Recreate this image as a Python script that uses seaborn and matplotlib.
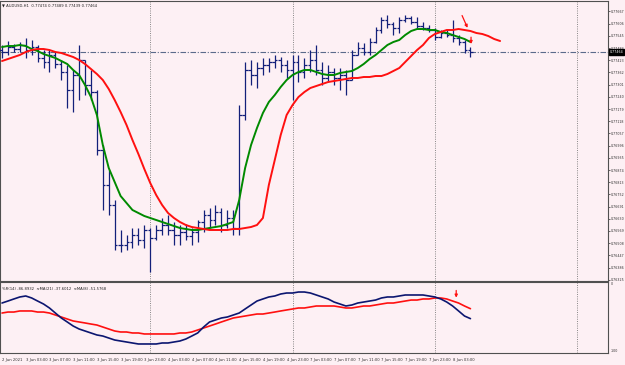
import numpy as np
import pandas as pd
import matplotlib
matplotlib.use("Agg")
import matplotlib.pyplot as plt
import matplotlib.transforms as mtrans
import seaborn as sns

# AUDUSD H1, бары с 2 Jun 23:00 по 8 Jun 06:00, цены в пунктах (1e-5)
bar_open = [77474, 77464, 77489, 77479, 77499, 77474, 77489, 77434, 77414, 77449,
            77404, 77364, 77274, 77349, 77424, 77299, 77264, 76974, 76799, 76699,
            76499, 76499, 76514, 76549, 76524, 76574, 76534, 76574, 76599, 76574,
            76549, 76564, 76544, 76564, 76614, 76649, 76624, 76664, 76599, 76634,
            76584, 77149, 77374, 77349, 77384, 77399, 77414, 77424, 77399, 77374,
            77414, 77364, 77399, 77424, 77374, 77334, 77364, 77334, 77349, 77324,
            77449, 77484, 77464, 77514, 77574, 77624, 77604, 77584, 77624, 77634,
            77614, 77594, 77584, 77574, 77539, 77559, 77549, 77534, 77514, 77474]
bar_high = [77499, 77519, 77504, 77514, 77534, 77524, 77499, 77474, 77474, 77464,
            77424, 77399, 77374, 77499, 77424, 77374, 77274, 76999, 76874, 76724,
            76574, 76549, 76584, 76584, 76599, 76584, 76599, 76634, 76649, 76614,
            76599, 76604, 76584, 76624, 76674, 76684, 76699, 76684, 76674, 76674,
            77199, 77414, 77424, 77414, 77434, 77434, 77449, 77439, 77424, 77449,
            77449, 77434, 77474, 77499, 77414, 77399, 77384, 77384, 77374, 77474,
            77514, 77509, 77534, 77589, 77639, 77649, 77614, 77639, 77649, 77644,
            77639, 77614, 77599, 77584, 77574, 77574, 77624, 77549, 77524, 77489]
bar_low = [77434, 77449, 77464, 77464, 77434, 77449, 77414, 77384, 77364, 77384,
           77324, 77184, 77164, 77224, 77249, 77224, 76949, 76674, 76649, 76474,
           76464, 76474, 76484, 76499, 76484, 76364, 76524, 76549, 76549, 76499,
           76499, 76524, 76499, 76514, 76564, 76584, 76599, 76564, 76584, 76549,
           76549, 77124, 77299, 77284, 77349, 77364, 77384, 77364, 77334, 77224,
           77314, 77334, 77364, 77349, 77299, 77314, 77299, 77274, 77249, 77324,
           77449, 77449, 77449, 77509, 77559, 77584, 77549, 77559, 77614, 77604,
           77584, 77574, 77564, 77524, 77534, 77539, 77514, 77499, 77459, 77439]
bar_close = [77464, 77489, 77479, 77499, 77474, 77489, 77434, 77414, 77449, 77404,
             77364, 77274, 77349, 77424, 77299, 77264, 76974, 76799, 76699, 76499,
             76499, 76514, 76549, 76524, 76574, 76534, 76574, 76599, 76574, 76549,
             76564, 76544, 76564, 76614, 76649, 76624, 76664, 76599, 76634, 76584,
             77149, 77374, 77349, 77384, 77399, 77414, 77424, 77399, 77374, 77414,
             77364, 77399, 77424, 77374, 77334, 77364, 77334, 77349, 77324, 77449,
             77484, 77464, 77514, 77574, 77624, 77604, 77584, 77624, 77634, 77614,
             77594, 77584, 77574, 77539, 77559, 77549, 77534, 77514, 77474, 77464]

# скользящие средние (зелёная быстрая, красная со сдвигом вперёд)
ma_green = [77489, 77494, 77494, 77499, 77494, 77479, 77469, 77454, 77444, 77434,
            77419, 77404, 77374, 77349, 77299, 77239, 77149, 76999, 76884, 76814,
            76744, 76709, 76674, 76659, 76644, 76634, 76624, 76614, 76604, 76594,
            76584, 76579, 76574, 76574, 76579, 76584, 76589, 76594, 76604, 76614,
            76724, 76884, 76999, 77084, 77159, 77214, 77249, 77289, 77324, 77349,
            77364, 77374, 77374, 77364, 77354, 77349, 77349, 77359, 77364, 77369,
            77384, 77404, 77429, 77449, 77474, 77499, 77514, 77524, 77549, 77569,
            77579, 77579, 77574, 77574, 77564, 77559, 77549, 77539, 77529, 77514]
ma_red = [77419, 77429, 77439, 77449, 77464, 77474, 77479, 77479, 77474, 77464,
          77459, 77449, 77439, 77424, 77404, 77379, 77354, 77324, 77279, 77224,
          77164, 77099, 77024, 76954, 76879, 76809, 76749, 76699, 76659, 76634,
          76614, 76599, 76589, 76584, 76579, 76574, 76574, 76574, 76574, 76579,
          76579, 76584, 76589, 76599, 76634, 76799, 76924, 77049, 77149, 77199,
          77239, 77264, 77284, 77294, 77304, 77314, 77319, 77324, 77329, 77334,
          77334, 77339, 77339, 77344, 77344, 77354, 77369, 77384, 77414, 77444,
          77474, 77499, 77534, 77554, 77564, 77574, 77574, 77579, 77574, 77569,
          77559, 77554, 77544, 77529, 77519]

# нижнее окно: средние от %R(14)
wpr_ma8 = [-29.6, -26.8, -23.9, -21.1, -19.7, -22.5, -26.8, -31.0, -36.6, -43.7,
           -50.7, -56.3, -62.0, -66.2, -69.0, -71.8, -74.6, -76.1, -78.9, -81.7,
           -83.1, -84.5, -85.9, -87.3, -87.3, -87.3, -87.3, -85.9, -85.9, -84.5,
           -83.1, -80.3, -76.1, -71.8, -63.4, -56.3, -53.5, -50.7, -49.3, -46.5,
           -43.7, -38.0, -32.4, -26.8, -23.9, -21.1, -19.7, -16.9, -15.5, -15.5,
           -14.1, -14.1, -15.5, -18.3, -21.1, -23.9, -28.2, -31.0, -33.8, -32.4,
           -29.6, -28.2, -26.8, -25.4, -22.5, -21.1, -21.1, -19.7, -18.3, -18.3,
           -18.3, -18.3, -19.7, -21.1, -23.9, -28.2, -33.8, -40.8, -47.9, -51.6]
wpr_ma21 = [-43.7, -42.3, -42.3, -40.8, -40.8, -40.8, -42.3, -42.3, -43.7, -46.5,
            -49.3, -52.1, -54.9, -56.3, -57.7, -59.2, -60.6, -63.4, -66.2, -69.0,
            -70.4, -70.4, -71.8, -71.8, -73.2, -73.2, -73.2, -73.2, -73.2, -73.2,
            -71.8, -71.8, -70.4, -67.6, -64.8, -62.0, -59.2, -56.3, -53.5, -50.7,
            -49.3, -47.9, -46.5, -45.1, -45.1, -43.7, -42.3, -40.8, -39.4, -38.0,
            -36.6, -36.6, -35.2, -33.8, -33.8, -33.8, -33.8, -35.2, -36.6, -36.6,
            -35.2, -33.8, -33.8, -32.4, -31.0, -29.6, -29.6, -28.2, -26.8, -25.4,
            -25.4, -23.9, -23.9, -22.5, -22.5, -23.9, -26.8, -29.6, -33.8, -37.6]

price_ticks = [77667, 77606, 77545, 77484, 77423, 77362, 77301, 77240, 77179, 77118,
               77057, 76996, 76935, 76874, 76813, 76752, 76691, 76630, 76569, 76508,
               76447, 76386, 76325]
time_ticks = [0, 4, 8, 12, 16, 20, 24, 28, 32, 36, 40, 44, 48, 52, 56, 60, 64, 68, 72, 76]
time_labels = ["2 Jun 2021", "3 Jun 03:00", "3 Jun 07:00", "3 Jun 11:00", "3 Jun 15:00",
               "3 Jun 19:00", "3 Jun 23:00", "4 Jun 03:00", "4 Jun 07:00", "4 Jun 11:00",
               "4 Jun 15:00", "4 Jun 19:00", "4 Jun 23:00", "7 Jun 03:00", "7 Jun 07:00",
               "7 Jun 11:00", "7 Jun 15:00", "7 Jun 19:00", "7 Jun 23:00", "8 Jun 03:00"]
day_breaks = [25, 49, 73, 97]

# стрелки-пометки (бар, цена) -> (бар, цена)
arrows_main = [((77.4, 77659), (78.7, 77572)), ((79.1, 77552), (79.1, 77490))]
arrows_sub = [((76.6, -8.0), (76.6, -26.0))]

title_text = "\u25bc AUDUSD,H1  0.77474 0.77489 0.77439 0.77464"
sub_text = "%R(14) -86.8932  \u2248MA(21) -37.6012  \u2248MA(8) -51.5768"

sns.set_style("white")
plt.rcParams['font.family'] = ['DejaVu Sans']

BG = "#fdf0f4"
BAR = "#13207a"
FS = 2.7      # мелкий шрифт терминала
FS_R = 2.3    # подписи шкалы справа
W, H = 625, 365

fig = plt.figure(figsize=(W / 100, H / 100), dpi=100)
fig.patch.set_facecolor(BG)
ax = fig.add_axes([0, 1 - 281 / H, 608 / W, 280 / H])
ax2 = fig.add_axes([0, 1 - 353 / H, 608 / W, 71 / H])

x_lim = (-0.34, 102.2)
o = np.array(bar_open) / 1e5
hi = np.array(bar_high) / 1e5
lo = np.array(bar_low) / 1e5
c = np.array(bar_close) / 1e5
idx = np.arange(len(o))

for a in (ax, ax2):
    a.set_facecolor(BG)
    a.set_xlim(*x_lim)
    for s in a.spines.values():
        s.set_color("#505050")
        s.set_linewidth(0.8)
    for d in day_breaks:
        a.axvline(d, color="#7a7a7a", lw=0.6, ls=(0, (1.2, 1.5)), zorder=1)

# бары OHLC
ax.vlines(idx, lo, hi, color=BAR, lw=0.9, zorder=3)
ax.hlines(o, idx - 0.45, idx, color=BAR, lw=0.9, zorder=3)
ax.hlines(c, idx, idx + 0.45, color=BAR, lw=0.9, zorder=3)

df_ma = pd.DataFrame({"x": np.arange(len(ma_green)), "y": np.array(ma_green) / 1e5})
df_red = pd.DataFrame({"x": np.arange(len(ma_red)), "y": np.array(ma_red) / 1e5})
sns.lineplot(data=df_ma, x="x", y="y", ax=ax, color="#008a00", lw=1.4, zorder=4)
sns.lineplot(data=df_red, x="x", y="y", ax=ax, color="#ff1010", lw=1.4, zorder=4)

# линия текущей цены
ax.axhline(c[-1], color="#5a6a8a", lw=0.8, ls=(0, (5, 1.5, 1, 1.5)), zorder=2)

ax.set_ylim(0.76319, 0.77719)
ax.set_xlabel("")
ax.set_ylabel("")
ax.set_xticks([])
ax.yaxis.tick_right()
ax.set_yticks(np.array(price_ticks) / 1e5)
ax.set_yticklabels([f"{p / 1e5:.5f}" for p in price_ticks])
ax.tick_params(axis="y", labelsize=FS_R, length=1.5, width=0.5, pad=0.8, colors="#303030")

tr = mtrans.blended_transform_factory(ax.transAxes, ax.transData)
ax.text(1.003, c[-1], f"{c[-1]:.5f}", transform=tr, fontsize=FS_R, color="white",
        va="center", ha="left", zorder=6,
        bbox=dict(facecolor="black", edgecolor="black", pad=0.5))
ax.text(0.004, 0.99, title_text, transform=ax.transAxes, fontsize=FS,
        va="top", ha="left", color="#202020")

for (x0, y0), (x1, y1) in arrows_main:
    ax.annotate("", xy=(x1, y1 / 1e5), xytext=(x0, y0 / 1e5),
                arrowprops=dict(arrowstyle="-|>", color="#ff1010", lw=0.9,
                                mutation_scale=4), zorder=7)

# нижнее окно
df_sub = pd.DataFrame({"x": idx, "fast": wpr_ma8, "slow": wpr_ma21})
sns.lineplot(data=df_sub, x="x", y="slow", ax=ax2, color="#ff1010", lw=1.2, zorder=3)
sns.lineplot(data=df_sub, x="x", y="fast", ax=ax2, color="#0c1670", lw=1.2, zorder=4)
ax2.set_ylim(-100, 0)
ax2.set_xlabel("")
ax2.set_ylabel("")
ax2.yaxis.tick_right()
ax2.set_yticks([0, -100])
ax2.set_yticklabels(["0", "-100"])
ax2.tick_params(axis="y", labelsize=FS_R, length=0, pad=2, colors="#303030")
for lab in ax2.get_yticklabels():
    lab.set_va("top" if lab.get_text() == "0" else "bottom")
ax2.set_xticks(time_ticks)
ax2.set_xticklabels(time_labels)
ax2.tick_params(axis="x", labelsize=FS, length=2.5, width=0.5, pad=1, colors="#303030",
                direction="out")
for lab in ax2.get_xticklabels():
    lab.set_ha("left")
ax2.text(0.004, 0.93, sub_text, transform=ax2.transAxes, fontsize=FS,
         va="top", ha="left", color="#202020")
for (x0, y0), (x1, y1) in arrows_sub:
    ax2.annotate("", xy=(x1, y1), xytext=(x0, y0),
                 arrowprops=dict(arrowstyle="-|>", color="#ff1010", lw=0.9,
                                 mutation_scale=4), zorder=7)

fig.savefig("out.png", dpi=100, facecolor=BG)
